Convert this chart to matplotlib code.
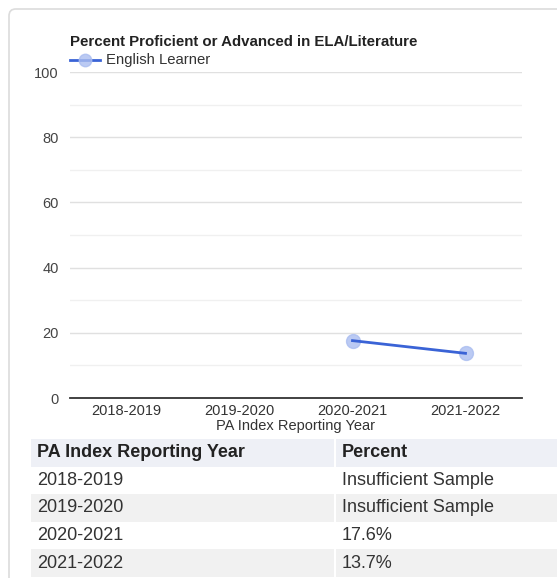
import matplotlib
matplotlib.use("Agg")
import matplotlib.pyplot as plt
from matplotlib.patches import Rectangle, FancyBboxPatch

plt.rcParams['font.family'] = ['Liberation Sans', 'DejaVu Sans']

years = ['2018-2019', '2019-2020', '2020-2021', '2021-2022']
percent = [None, None, 17.6, 13.7]
percent_text = ['Insufficient Sample', 'Insufficient Sample', '17.6%', '13.7%']
series_name = 'English Learner'
title = 'Percent Proficient or Advanced in ELA/Literature'
xlabel = 'PA Index Reporting Year'
table_cols = ['PA Index Reporting Year', 'Percent']

W, H = 557, 578
fig = plt.figure(figsize=(W / 100, H / 100), dpi=100)


def fx(px):
    return px / W


def fy(py):
    return 1 - py / H


# card background
card = FancyBboxPatch((fx(9), fy(H + 10)), fx(W), fy(9) - fy(H + 10),
                      boxstyle="round,pad=0,rounding_size=0.012",
                      transform=fig.transFigure, facecolor='white',
                      edgecolor='#dcdcdc', linewidth=1.2, zorder=-10)
fig.patches.append(card)

# chart
ax = fig.add_axes([fx(70), fy(398), fx(522) - fx(70), fy(72) - fy(398)])
ax.set_zorder(5)
ax.set_facecolor('none')
xs = [i for i, v in enumerate(percent) if v is not None]
ys = [v for v in percent if v is not None]
ax.plot(xs, ys, color='#3a63d6', lw=2, zorder=3)
ax.plot(xs, ys, ls='none', marker='o', ms=10, color='#aabdf0',
        alpha=0.8, zorder=2)
ax.set_xlim(-0.5, len(years) - 0.5)
ax.set_ylim(0, 100)
ax.set_yticks(range(0, 101, 20))
ax.set_yticks(range(10, 100, 20), minor=True)
ax.set_xticks(range(len(years)))
ax.set_xticklabels(years)
ax.grid(axis='y', which='major', color='#e0e0e0', lw=1)
ax.grid(axis='y', which='minor', color='#f0f0f0', lw=1)
for s in ['top', 'right', 'left']:
    ax.spines[s].set_visible(False)
ax.spines['bottom'].set_color('#333333')
ax.spines['bottom'].set_linewidth(1.3)
ax.tick_params(axis='y', which='both', length=0, pad=8, labelsize=10.5,
               labelcolor='#444444')
ax.tick_params(axis='x', length=0, pad=4, labelsize=10.5, labelcolor='#333333')
ax.set_xlabel(xlabel, fontsize=10.5, color='#333333', labelpad=1)

fig.text(fx(70), fy(42), title, fontsize=10.8, fontweight='bold',
         color='#222222', va='center', ha='left')
fig.lines.append(plt.Line2D([fx(70), fx(100)], [fy(60), fy(60)],
                            transform=fig.transFigure, color='#3a63d6', lw=2))
fig.lines.append(plt.Line2D([fx(85)], [fy(60)], transform=fig.transFigure,
                            marker='o', ms=9, color='#aabdf0', alpha=0.8))
fig.text(fx(106), fy(60), series_name, fontsize=10.7, color='#333333',
         va='center', ha='left')

# table
x0, x1, xc = 31, W, 335
row_h = 27.6
top = 439
hdr = Rectangle((fx(x0), fy(top + row_h)), fx(x1) - fx(x0),
                fy(top) - fy(top + row_h), transform=fig.transFigure,
                facecolor='#eef0f6', edgecolor='none')
fig.patches.append(hdr)
fig.text(fx(x0 + 6), fy(top + row_h / 2), table_cols[0], fontsize=13,
         fontweight='bold', color='#222222', va='center')
fig.text(fx(xc + 7), fy(top + row_h / 2), table_cols[1], fontsize=13,
         fontweight='bold', color='#222222', va='center')
for i, (yr, pt) in enumerate(zip(years, percent_text)):
    y_top = top + row_h * (i + 1)
    bg = '#f1f1f1' if i % 2 == 1 else 'white'
    fig.patches.append(Rectangle((fx(x0), fy(y_top + row_h)), fx(x1) - fx(x0),
                                 fy(y_top) - fy(y_top + row_h),
                                 transform=fig.transFigure, facecolor=bg,
                                 edgecolor='none'))
    fig.text(fx(x0 + 6), fy(y_top + row_h / 2), yr, fontsize=13,
             color='#333333', va='center')
    fig.text(fx(xc + 7), fy(y_top + row_h / 2), pt, fontsize=13,
             color='#333333', va='center')
fig.lines.append(plt.Line2D([fx(xc), fx(xc)], [fy(top), fy(H)],
                            transform=fig.transFigure, color='white', lw=1.5))

fig.savefig('out.png', dpi=100)
